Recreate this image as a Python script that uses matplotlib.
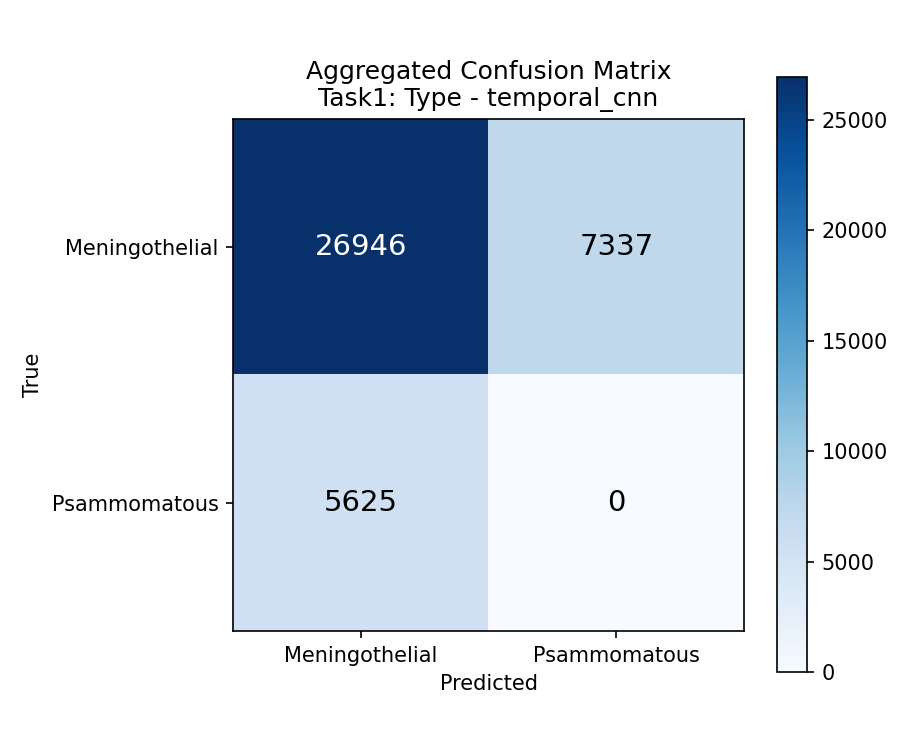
import matplotlib
matplotlib.use("Agg")
import matplotlib.pyplot as plt
import numpy as np

classes = ["Meningothelial", "Psammomatous"]
matrix = [[26946, 7337], [5625, 0]]
cm = np.array(matrix)

fig = plt.figure(figsize=(6, 5), dpi=150)
ax = fig.add_axes([233 / 900, (750 - 631) / 750, 511 / 900, 512 / 750])
cax = fig.add_axes([777 / 900, (750 - 672) / 750, 30 / 900, 595 / 750])
im = ax.imshow(cm, interpolation="nearest", cmap="Blues", aspect="auto")
cbar = fig.colorbar(im, cax=cax)
ax.set_title("Aggregated Confusion Matrix\nTask1: Type - temporal_cnn", fontsize=12)
ax.set_xticks(np.arange(len(classes)))
ax.set_yticks(np.arange(len(classes)))
ax.set_xticklabels(classes)
ax.set_yticklabels(classes)
ax.set_xlabel("Predicted")
ax.set_ylabel("True")
thresh = cm.max() / 2.0
for i in range(cm.shape[0]):
    for j in range(cm.shape[1]):
        ax.text(j, i, str(cm[i, j]), ha="center", va="center", fontsize=14,
                color="white" if cm[i, j] > thresh else "black")
fig.savefig("out.png", dpi=150)
